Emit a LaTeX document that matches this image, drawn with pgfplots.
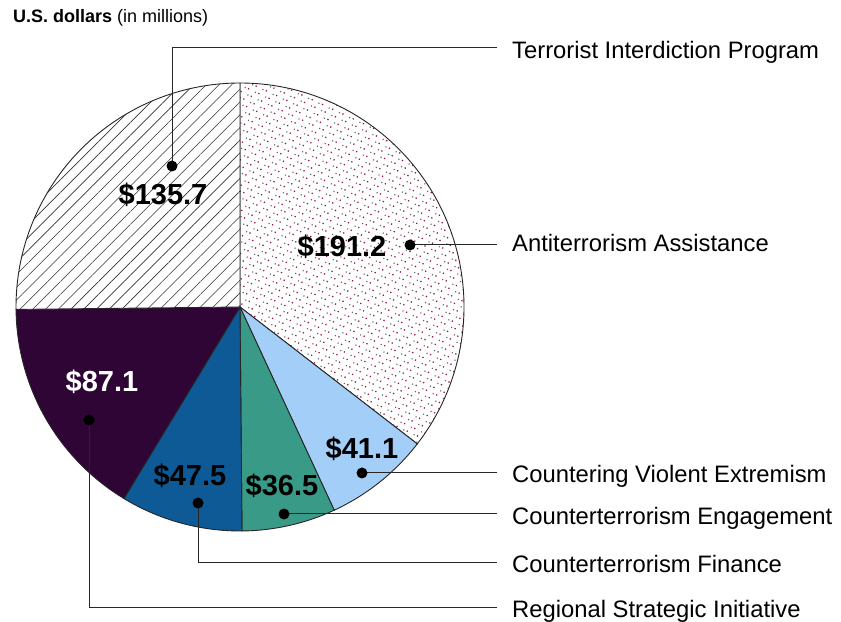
\documentclass[border=0pt]{standalone}
\usepackage{pgfplots}
\pgfplotsset{compat=1.18}
\usepackage{pgfplotstable}
\usepackage{fontspec}
\setmainfont{Liberation Sans}
\usetikzlibrary{patterns,patterns.meta}
\definecolor{cRSI}{HTML}{2E0535}
\definecolor{cCTF}{HTML}{0D5A96}
\definecolor{cCTE}{HTML}{3A9A88}
\definecolor{cCVE}{HTML}{A3CEF7}
\definecolor{dotred}{HTML}{A01838}
\pgfplotstableread{
name value
AA  191.2
CVE 41.1
CTE 36.5
CTF 47.5
RSI 87.1
TIP 135.7
}\piedata
\begin{document}
\begin{tikzpicture}
\pgfplotstablegetelem{0}{value}\of\piedata \let\vA\pgfplotsretval
\pgfplotstablegetelem{1}{value}\of\piedata \let\vB\pgfplotsretval
\pgfplotstablegetelem{2}{value}\of\piedata \let\vC\pgfplotsretval
\pgfplotstablegetelem{3}{value}\of\piedata \let\vD\pgfplotsretval
\pgfplotstablegetelem{4}{value}\of\piedata \let\vE\pgfplotsretval
\pgfplotstablegetelem{5}{value}\of\piedata \let\vF\pgfplotsretval
\pgfmathsetmacro\vT{\vA+\vB+\vC+\vD+\vE+\vF}
\pgfmathsetmacro\aZ{90}
\pgfmathsetmacro\aA{\aZ-360*(\vA/\vT)}
\pgfmathsetmacro\aB{\aA-360*(\vB/\vT)}
\pgfmathsetmacro\aC{\aB-360*(\vC/\vT)}
\pgfmathsetmacro\aD{\aC-360*(\vD/\vT)}
\pgfmathsetmacro\aE{\aD-360*(\vE/\vT)}
\pgfmathsetmacro\aF{\aE-360*(\vF/\vT)}
\def\R{224bp}
\begin{axis}[
  scale only axis, width=841bp, height=622bp,
  xmin=0, xmax=841, ymin=0, ymax=622,
  hide axis, clip=false,
]
\path (axis cs:0,0) rectangle (axis cs:841,622);
% wedges (y = 622 - pixel row)
\def\wedge#1#2{(axis cs:240,315) -- ++(#1:\R) arc[start angle=#1, end angle=#2, radius=\R] -- cycle}
% Antiterrorism Assistance
\fill[white] \wedge{\aZ}{\aA};
\fill[pattern={Dots[radius=0.9bp,distance=8bp,angle=20]}, pattern color=dotred] \wedge{\aZ}{\aA};
\fill[pattern={Dots[radius=0.8bp,distance=8bp,angle=20,xshift=4bp,yshift=4bp]}, pattern color=black!60] \wedge{\aZ}{\aA};
\draw[line width=0.9bp, black!85] \wedge{\aZ}{\aA};
% CVE
\filldraw[fill=cCVE, draw=black!85, line width=0.9bp] \wedge{\aA}{\aB};
% CTE
\filldraw[fill=cCTE, draw=black!85, line width=0.9bp] \wedge{\aB}{\aC};
% CTF
\filldraw[fill=cCTF, draw=black!85, line width=0.9bp] \wedge{\aC}{\aD};
% RSI
\filldraw[fill=cRSI, draw=black!85, line width=0.9bp] \wedge{\aD}{\aE};
% TIP
\fill[white] \wedge{\aE}{\aF};
\fill[pattern={Lines[angle=45,distance=9bp,line width=0.6bp]}, pattern color=black!80] \wedge{\aE}{\aF};
\draw[line width=0.9bp, black!85] \wedge{\aE}{\aF};

% title
\node[anchor=base west, inner sep=0, font=\fontsize{18bp}{20bp}\selectfont] at (axis cs:13,599) {\textbf{U.S. dollars} (in millions)};

% value labels
\begin{scope}[every node/.style={font=\bfseries\fontsize{29bp}{32bp}\selectfont, inner sep=0}]
\node at (axis cs:163,427) {\$135.7};
\node at (axis cs:342,375) {\$191.2};
\node[white] at (axis cs:102,240) {\$87.1};
\node at (axis cs:190,146) {\$47.5};
\node at (axis cs:282,136) {\$36.5};
\node at (axis cs:362,173) {\$41.1};
\end{scope}

% leader lines
\begin{scope}[line width=1bp, black!85]
\draw (axis cs:172,456) -- (axis cs:172,574) -- (axis cs:497,574);
\draw (axis cs:410,377) -- (axis cs:497,377);
\draw (axis cs:362,149) -- (axis cs:497,149);
\draw (axis cs:284,108) -- (axis cs:497,108);
\draw (axis cs:198,119) -- (axis cs:198,59) -- (axis cs:497,59);
\draw (axis cs:89,202) -- (axis cs:89,14) -- (axis cs:497,14);
\fill[black] (axis cs:172,456) circle[radius=5.5bp];
\fill[black] (axis cs:410,377) circle[radius=5.5bp];
\fill[black] (axis cs:362,149) circle[radius=5.5bp];
\fill[black] (axis cs:284,108) circle[radius=5.5bp];
\fill[black] (axis cs:198,119) circle[radius=5.5bp];
\fill[black] (axis cs:89,202) circle[radius=5.5bp];
\end{scope}

% category labels
\begin{scope}[every node/.style={anchor=base west, inner sep=0, font=\fontsize{23.8bp}{27bp}\selectfont}]
\node at (axis cs:512,563) {Terrorist Interdiction Program};
\node at (axis cs:512,370) {Antiterrorism Assistance};
\node at (axis cs:512,139) {Countering Violent Extremism};
\node at (axis cs:512,97) {Counterterrorism Engagement};
\node at (axis cs:512,49) {Counterterrorism Finance};
\node at (axis cs:512,5) {Regional Strategic Initiative};
\end{scope}
\end{axis}
\end{tikzpicture}
\end{document}
